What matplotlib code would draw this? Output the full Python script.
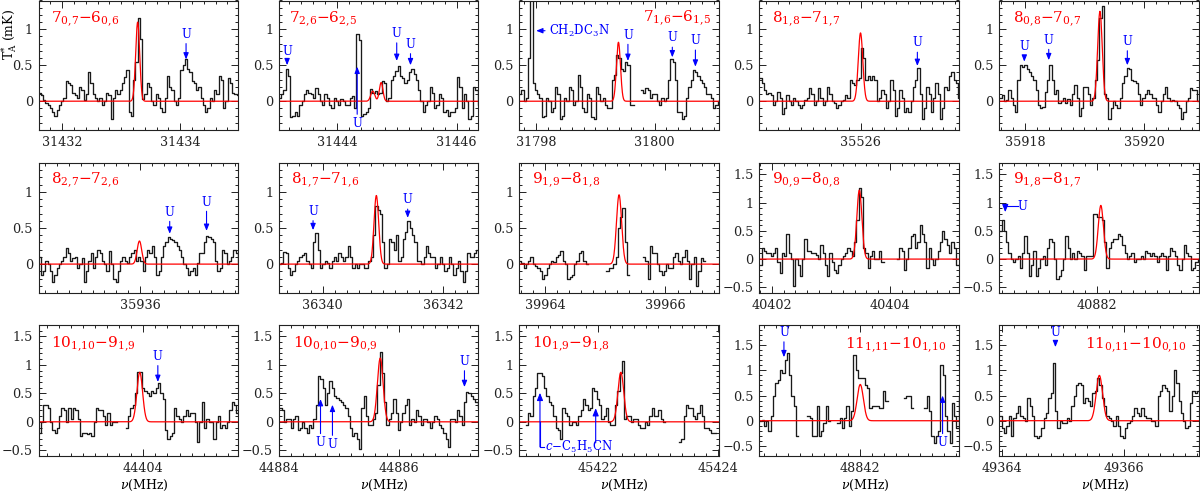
import numpy as np
import matplotlib
matplotlib.use('Agg')
import matplotlib.pyplot as plt
from matplotlib.ticker import MultipleLocator, FuncFormatter

nan = np.nan
plt.rcParams['font.family'] = ['DejaVu Serif']
plt.rcParams['mathtext.fontset'] = 'dejavuserif'

CHAN = 0.03815  # channel width (MHz)

labels = [r'$7_{0{,}7}{-}6_{0{,}6}$', r'$7_{2{,}6}{-}6_{2{,}5}$', r'$7_{1{,}6}{-}6_{1{,}5}$',
          r'$8_{1{,}8}{-}7_{1{,}7}$', r'$8_{0{,}8}{-}7_{0{,}7}$',
          r'$8_{2{,}7}{-}7_{2{,}6}$', r'$8_{1{,}7}{-}7_{1{,}6}$', r'$9_{1{,}9}{-}8_{1{,}8}$',
          r'$9_{0{,}9}{-}8_{0{,}8}$', r'$9_{1{,}8}{-}8_{1{,}7}$',
          r'$10_{1{,}10}{-}9_{1{,}9}$', r'$10_{0{,}10}{-}9_{0{,}9}$', r'$10_{1{,}9}{-}9_{1{,}8}$',
          r'$11_{1{,}11}{-}10_{1{,}10}$', r'$11_{0{,}11}{-}10_{0{,}10}$']

f_start = [31431.60, 31443.03, 31797.71, 35524.29, 35917.57,
           35934.29, 36339.27, 39963.57, 40401.79, 40880.36,
           44402.26, 44884.00, 45420.68, 48840.33, 49363.96]
x_lo = [31431.60, 31443.03, 31797.71, 35524.29, 35917.57,
        35934.29, 36339.27, 39963.57, 40401.79, 40880.36,
        44402.26, 44883.99, 45420.68, 48840.33, 49363.96]
x_hi = [31434.98, 31446.36, 31801.08, 35527.66, 35920.92,
        35937.65, 36342.58, 39966.88, 40405.16, 40883.70,
        44405.57, 44887.33, 45424.01, 48843.65, 49367.23]
y_lo = [-0.4, -0.4, -0.4, -0.4, -0.4, -0.4, -0.4, -0.4, -0.6, -0.6,
        -0.6, -0.6, -0.6, -0.7, -0.7]
y_hi = [1.4, 1.4, 1.4, 1.4, 1.4, 1.4, 1.4, 1.4, 1.7, 1.7,
        1.7, 1.7, 1.7, 1.9, 1.9]

spec_01 = [0.12, 0.08, 0.02, -0.02, -0.05, -0.10, -0.15, -0.20, -0.12, -0.05,
           0.00, 0.05, 0.28, 0.25, 0.22, 0.12, 0.08, 0.05, 0.20, 0.15,
           0.02, 0.10, 0.40, 0.25, 0.10, 0.05, 0.00, 0.05, -0.05, 0.00,
           0.12, 0.08, -0.25, 0.05, 0.15, 0.10, 0.15, 0.25, 0.33, 0.43,
           -0.15, -0.20, 0.30, 0.55, 1.15, 0.87, 0.03, 0.10, 0.25, 0.20,
           0.00, -0.05, 0.10, 0.05, -0.10, -0.15, 0.05, 0.35, 0.20, 0.15,
           0.00, -0.05, 0.05, 0.43, 0.50, 0.58, 0.45, 0.40, 0.28, 0.25,
           0.15, 0.20, 0.05, -0.05, -0.15, -0.10, 0.05, 0.00, 0.15, 0.10,
           0.35, 0.30, -0.10, 0.00, 0.32, 0.25, 0.12, 0.10, 0.08]
spec_02 = [0.05, 0.10, 0.15, 0.45, 0.35, -0.22, -0.20, -0.15, -0.20, -0.05,
           0.00, 0.10, 0.16, 0.12, 0.10, 0.05, 0.18, 0.10, 0.00, -0.05,
           0.10, 0.05, -0.05, -0.10, 0.05, 0.00, -0.05, 0.03, 0.00, -0.05,
           -0.05, 0.05, 0.07, -0.10, 0.93, 0.85, -0.20, -0.18, -0.15, -0.10,
           0.17, 0.12, 0.14, 0.10, 0.12, 0.28, 0.25, 0.00, 0.05, 0.30,
           0.35, 0.42, 0.49, 0.35, 0.32, 0.25, 0.30, 0.40, 0.45, 0.38,
           0.30, 0.15, 0.00, -0.15, -0.05, 0.00, 0.20, 0.12, -0.10, -0.05,
           0.10, 0.05, -0.15, -0.12, -0.20, -0.15, -0.15, -0.10, 0.33, 0.20,
           -0.10, 0.10, 0.00, -0.25, -0.20, 0.20, 0.15, -0.05]
spec_03 = [0.10, 0.15, 0.00, 0.05, 0.60, 2.80, 0.25, 0.15, 0.10, 0.05,
           -0.22, -0.20, 0.05, 0.00, -0.15, -0.10, 0.20, 0.10, -0.25, -0.20,
           0.05, 0.00, 0.20, 0.15, -0.05, 0.00, 0.37, 0.20, -0.10, -0.15,
           0.10, 0.05, -0.22, -0.25, 0.20, 0.10, 0.00, 0.05, -0.05, -0.10,
           -0.10, 0.30, 0.37, 0.64, 0.60, 0.45, 0.42, 0.55, 0.50, -0.05,
           -0.05, nan, nan, nan, 0.15, 0.12, 0.18, 0.15, 0.05, 0.10,
           0.10, 0.00, -0.05, 0.05, 0.00, 0.05, 0.30, 0.58, 0.55, 0.30,
           -0.15, -0.15, -0.25, -0.20, 0.05, 0.20, 0.30, 0.43, 0.40, 0.35,
           0.30, 0.25, 0.20, 0.10, 0.10, 0.05, -0.10, -0.05, 0.00]
spec_04 = [0.32, 0.25, 0.15, 0.10, 0.12, 0.08, -0.05, 0.00, 0.13, 0.05,
           -0.18, -0.10, 0.08, 0.00, -0.05, 0.05, 0.00, -0.05, -0.10, -0.05,
           0.02, 0.05, 0.18, 0.10, -0.05, 0.00, 0.18, 0.05, -0.05, 0.00,
           0.20, 0.10, 0.00, -0.02, -0.10, -0.05, 0.00, 0.02, 0.08, 0.05,
           0.30, 0.25, 0.22, 0.30, 0.32, 0.74, 0.60, 0.30, 0.35, 0.30,
           0.35, 0.30, 0.00, 0.05, 0.15, 0.10, -0.10, 0.00, 0.30, 0.15,
           -0.20, -0.10, 0.15, 0.05, -0.15, -0.10, -0.15, 0.00, 0.20, 0.30,
           0.46, 0.10, -0.25, -0.10, 0.20, 0.10, -0.15, 0.05, 0.25, 0.10,
           -0.25, -0.10, 0.20, 0.15, 0.35, 0.40, 0.30, 0.25, 0.05]
spec_05 = [0.05, 0.08, 0.00, 0.02, 0.15, 0.05, -0.05, -0.15, 0.30, 0.50,
           0.48, 0.50, 0.45, 0.40, 0.35, 0.30, 0.15, -0.05, -0.10, -0.08,
           0.13, 0.30, 0.50, 0.30, 0.10, 0.15, -0.02, 0.00, 0.05, -0.02,
           0.03, -0.05, 0.10, 0.22, 0.05, -0.20, -0.10, 0.20, 0.20, 0.10,
           -0.05, 0.05, 0.30, 0.57, 1.15, 1.33, 0.10, 0.05, -0.25, -0.10,
           0.00, -0.05, -0.10, 0.05, 0.25, 0.35, 0.46, 0.45, 0.30, 0.28,
           0.25, 0.10, -0.05, 0.05, 0.10, 0.15, 0.10, 0.05, 0.05, -0.05,
           -0.15, 0.00, 0.10, 0.20, 0.05, 0.00, 0.02, 0.00, -0.05, -0.10,
           -0.25, -0.15, 0.00, 0.05, 0.18, 0.15, 0.15, 0.00]
spec_06 = [0.10, -0.15, -0.10, 0.05, 0.00, -0.10, -0.25, -0.15, -0.05, 0.00,
           0.05, 0.10, 0.23, 0.15, 0.05, 0.08, 0.10, -0.05, 0.00, 0.08,
           -0.25, -0.10, 0.05, 0.15, -0.05, 0.10, 0.20, 0.15, 0.05, 0.00,
           -0.10, 0.18, 0.00, -0.20, -0.25, -0.10, 0.05, 0.10, 0.05, 0.02,
           0.10, 0.15, 0.20, 0.05, 0.10, 0.05, -0.10, 0.10, 0.20, 0.15,
           0.25, 0.10, -0.15, -0.10, 0.10, 0.25, 0.30, 0.37, 0.35, 0.33,
           0.30, 0.25, 0.20, 0.10, 0.00, -0.05, -0.15, -0.10, -0.05, -0.15,
           0.02, 0.15, 0.15, 0.30, 0.39, 0.38, 0.35, 0.30, 0.05, -0.10,
           -0.05, 0.20, 0.15, 0.00, 0.05, 0.10, 0.20, 0.15, 0.00]
spec_07 = [0.00, 0.02, 0.17, 0.15, -0.05, -0.15, -0.10, 0.00, 0.05, 0.10,
           0.12, 0.15, 0.05, 0.00, -0.05, 0.30, 0.43, 0.20, -0.05, 0.00,
           0.05, 0.02, -0.05, 0.05, 0.10, 0.05, 0.15, 0.10, 0.05, 0.10,
           0.25, 0.10, -0.05, 0.00, -0.05, 0.00, 0.00, -0.05, -0.05, 0.05,
           0.10, 0.40, 0.80, 0.75, 0.70, 0.30, -0.05, 0.00, 0.35, 0.30,
           0.20, 0.40, 0.05, 0.10, 0.35, 0.45, 0.60, 0.50, 0.40, 0.30,
           0.05, 0.05, 0.00, 0.10, 0.25, 0.15, 0.10, 0.10, -0.05, 0.00,
           0.10, 0.00, -0.10, -0.05, 0.10, 0.00, -0.15, -0.05, 0.05, -0.10,
           -0.25, -0.10, 0.15, 0.10, 0.10, 0.15, 0.20]
spec_08 = [0.05, 0.02, -0.05, 0.00, 0.05, 0.10, 0.00, -0.03, -0.05, -0.10,
           -0.20, -0.15, -0.05, 0.00, 0.05, 0.03, 0.10, 0.12, 0.18, 0.05,
           0.00, -0.20, -0.18, -0.15, 0.00, 0.05, 0.15, 0.18, 0.05, 0.00,
           nan, nan, nan, nan, nan, nan, nan, nan, -0.10, -0.05,
           -0.05, 0.00, 0.10, 0.50, 0.65, 0.78, 0.30, -0.15, nan, nan,
           nan, nan, nan, nan, 0.10, 0.05, -0.20, 0.25, 0.15, 0.15,
           0.00, -0.10, -0.15, -0.10, 0.00, -0.05, -0.05, 0.10, 0.15, 0.05,
           0.00, 0.10, 0.20, 0.05, -0.20, 0.00, 0.10, -0.30, -0.10, 0.08,
           0.05, nan, nan, nan, nan, nan, nan, nan]
spec_09 = [-0.10, 0.20, 0.15, 0.10, 0.10, 0.05, 0.10, 0.20, -0.05, -0.25,
           0.10, 0.05, 0.45, 0.10, 0.00, -0.48, 0.00, -0.10, -0.30, 0.00,
           0.35, 0.15, 0.15, 0.10, 0.10, 0.08, 0.00, 0.25, 0.10, -0.10,
           -0.30, 0.10, -0.05, -0.20, -0.25, -0.10, 0.00, 0.05, 0.10, 0.20,
           0.15, 0.05, 0.30, 0.70, 1.25, 1.10, 0.20, 0.10, -0.15, 0.05,
           0.15, 0.00, 0.00, 0.15, -0.05, nan, nan, nan, nan, nan,
           nan, 0.00, 0.20, 0.15, -0.20, 0.00, 0.20, 0.40, 0.45, 0.20,
           0.30, 0.60, 0.45, 0.30, -0.15, 0.20, 0.00, -0.10, 0.00, 0.15,
           0.30, 0.50, 0.35, 0.25, 0.10, 0.30, 0.20, -0.10, -0.10]
spec_10 = [0.50, 0.70, 0.50, 0.30, 0.10, 0.00, -0.05, 0.00, 0.05, -0.15,
           0.10, 0.40, 0.10, -0.30, -0.10, 0.15, -0.30, -0.15, 0.00, 0.05,
           -0.10, 0.20, 0.35, 0.30, 0.00, -0.35, -0.30, -0.20, 0.00, 0.40,
           0.20, 0.00, 0.10, 0.00, 0.15, 0.10, 0.05, -0.20, 0.05, 0.05,
           0.05, 0.80, 0.80, 0.75, 0.75, 0.70, 0.30, -0.15, 0.20, 0.30,
           0.35, 0.35, 0.45, 0.40, 0.25, 0.10, 0.00, 0.05, 0.10, -0.05,
           0.00, 0.00, 0.05, 0.00, 0.15, 0.10, 0.05, 0.10, 0.05, -0.05,
           0.05, 0.10, 0.05, -0.20, 0.05, 0.20, 0.15, 0.05, -0.10, -0.20,
           0.00, 0.25, 0.10, 0.05, -0.20, -0.15, -0.05, 0.00]
spec_11 = [-0.20, 0.00, 0.30, 0.30, 0.25, 0.00, -0.15, -0.20, -0.10, 0.10,
           0.24, 0.20, 0.00, 0.25, 0.05, 0.25, 0.20, 0.05, -0.25, -0.20,
           -0.20, -0.22, -0.20, -0.25, 0.00, 0.25, 0.20, 0.20, 0.10, -0.05,
           0.15, -0.05, 0.00, 0.00, nan, nan, nan, nan, -0.10, 0.10,
           0.25, 0.30, 0.50, 0.88, 0.88, 0.60, 0.55, 0.50, 0.45, 0.55,
           0.50, 0.60, 0.68, 0.50, 0.40, -0.15, -0.30, -0.25, -0.20, 0.25,
           0.10, 0.05, 0.00, 0.10, 0.20, 0.10, 0.15, 0.15, 0.00, -0.35,
           0.00, 0.35, -0.10, 0.05, 0.00, 0.00, -0.30, 0.00, 0.10, -0.10,
           -0.05, -0.10, 0.00, 0.20, 0.35, 0.30, 0.15, -0.25]
spec_12 = [0.25, 0.20, 0.00, 0.05, 0.05, -0.10, 0.05, 0.10, -0.15, -0.10,
           0.00, -0.10, -0.20, -0.05, -0.10, 0.05, 0.30, 0.80, 0.75, 0.60,
           0.30, 0.50, 0.72, 0.60, 0.45, 0.42, 0.38, 0.35, 0.30, 0.25,
           0.10, -0.10, -0.25, -0.20, -0.30, -0.48, 0.25, 0.45, 0.10, -0.05,
           -0.05, 0.05, 0.15, 0.65, 1.22, 0.85, 0.35, -0.05, 0.05, 0.15,
           0.40, 0.15, -0.15, 0.00, 0.15, 0.30, 0.40, -0.05, 0.05, 0.00,
           0.20, 0.10, -0.05, 0.05, 0.05, 0.00, -0.10, 0.00, 0.10, 0.05,
           -0.05, -0.10, -0.20, -0.30, -0.45, 0.05, 0.05, 0.00, 0.20, 0.10,
           -0.05, 0.35, 0.53, 0.50, 0.45, 0.40, 0.35, 0.25]
spec_13 = [nan, nan, nan, -0.05, 0.15, 0.10, 0.45, 0.60, 0.86, 0.85,
           0.80, 0.60, 0.45, 0.35, 0.30, 0.10, -0.10, -0.15, -0.30, 0.25,
           0.15, 0.10, -0.05, 0.00, 0.00, -0.05, 0.10, 0.20, 0.40, 0.30,
           0.20, 0.25, 0.60, 0.55, 0.40, 0.30, 0.05, 0.10, 0.25, 0.00,
           -0.05, -0.05, 0.30, 0.55, 0.85, 1.07, 0.05, 0.10, 0.10, 0.00,
           0.05, 0.05, -0.05, -0.10, -0.10, 0.00, -0.05, 0.10, 0.25, 0.10,
           0.10, 0.20, 0.05, 0.00, nan, nan, nan, nan, nan, nan,
           -0.35, -0.30, 0.10, 0.30, 0.25, 0.25, 0.10, 0.05, 0.15, 0.30,
           0.10, -0.10, -0.10, -0.15, -0.20, -0.20, nan, nan]
spec_14 = [0.00, 0.02, -0.10, 0.00, -0.20, 0.10, 0.50, 0.75, 0.80, 1.00,
           0.95, 1.20, 1.35, 0.90, 0.50, 0.30, -0.30, nan, nan, nan,
           nan, 0.10, 0.05, -0.30, -0.30, 0.30, -0.30, -0.20, -0.05, 0.30,
           0.00, nan, nan, nan, -0.05, 0.05, -0.15, 0.05, 0.30, -0.10,
           0.20, 1.30, 1.00, 0.85, 0.85, 0.85, 0.70, 0.65, 0.25, 0.30,
           0.30, 0.30, 0.25, 0.25, 0.60, 0.40, nan, nan, nan, nan,
           nan, nan, nan, 0.45, 0.50, 0.50, 0.25, nan, nan, nan,
           nan, nan, 0.25, 0.50, 0.20, -0.30, -0.45, -0.30, -0.20, 1.10,
           0.90, 0.10, -0.20, -0.45, 0.35, 0.10, -0.15, 0.50]
spec_15 = [0.10, -0.15, -0.25, -0.10, 0.10, -0.30, 0.05, 0.15, 0.30, 0.10,
           0.05, 0.00, 0.45, 0.30, 0.10, -0.30, -0.35, -0.30, -0.15, 0.05,
           0.15, 0.45, 0.55, 1.15, 0.20, -0.15, 0.00, -0.05, -0.05, 0.05,
           0.00, 0.30, 0.50, 0.70, 0.75, 0.70, 0.35, 0.45, 0.40, 0.30,
           0.55, 0.60, 0.85, 0.70, 0.45, 0.30, 0.10, 0.05, 0.00, -0.10,
           0.10, -0.10, -0.30, -0.35, -0.15, -0.05, 0.00, 0.10, 0.25, 0.15,
           0.10, 0.25, 0.10, 0.05, 0.05, 0.00, 0.00, -0.10, 0.50, 0.60,
           0.70, 0.65, 0.60, 0.20, 0.50, 1.00, 0.75, 0.40, 0.15, 0.00,
           -0.15, -0.10, 0.35, 0.60, 0.55, 0.60]

spectra = [spec_01, spec_02, spec_03, spec_04, spec_05, spec_06, spec_07, spec_08,
           spec_09, spec_10, spec_11, spec_12, spec_13, spec_14, spec_15]

# LTE model components (red)
comp_panel = [0, 1, 1, 2, 3, 4, 5, 6, 7, 8, 9, 10, 11, 12, 13, 14]
comp_center = [31433.28, 31444.60, 31444.74, 31799.39, 35526.00, 35919.26,
               35935.99, 36340.89, 39965.23, 40403.48, 40882.06, 44403.94,
               44885.69, 45422.38, 48842.01, 49365.60]
comp_peak = [1.10, 0.14, 0.26, 0.82, 0.95, 1.25, 0.32, 0.95, 0.96, 1.22, 0.95,
             0.87, 1.12, 0.87, 0.72, 0.90]
comp_fwhm = [0.080, 0.080, 0.070, 0.080, 0.090, 0.090, 0.090, 0.091, 0.100, 0.101,
             0.102, 0.111, 0.112, 0.114, 0.122, 0.123]

# "U" markers: downward arrows (text above) and upward arrows (text below)
ud_panel = [0, 1, 1, 1, 2, 2, 2, 3, 4, 4, 4, 5, 5, 6, 6, 10, 11, 13, 14]
ud_freq = [31434.10, 31443.17, 31445.00, 31445.23, 31799.55, 31800.30, 31800.69,
           35526.96, 35917.99, 35918.40, 35919.72, 35936.50, 35937.12,
           36339.84, 36341.41, 44404.24, 44887.10, 48840.74, 49364.88]
ud_tip = [0.58, 0.50, 0.56, 0.50, 0.56, 0.61, 0.48, 0.49, 0.55, 0.57, 0.50,
          0.42, 0.46, 0.47, 0.64, 0.70, 0.61, 1.26, 1.46]
ud_text = [0.93, 0.69, 0.94, 0.79, 0.92, 0.88, 0.84, 0.81, 0.76, 0.85, 0.83,
           0.72, 0.86, 0.73, 0.89, 1.15, 1.06, 1.75, 1.76]

uu_panel = [1, 11, 11, 13]
uu_freq = [31444.34, 44884.69, 44884.89, 48843.38]
uu_tip = [0.48, 0.40, 0.30, 0.50]
uu_text = [-0.31, -0.37, -0.40, -0.44]

BLUE = '#0000ff'
RED = '#ff0000'

fig = plt.figure(figsize=(12, 4.92), dpi=100)
col_left = [38.5, 278.7, 519.0, 759.3, 999.3]
row_top = [0.5, 163.0, 325.0]
row_bot = [130.0, 293.0, 456.0]
lab_ha = ['left', 'left', 'right', 'left', 'left',
          'left', 'left', 'left', 'left', 'left',
          'left', 'left', 'left', 'right', 'right']
lab_x = [0.063, 0.050, 0.963, 0.062, 0.067,
         0.062, 0.062, 0.063, 0.062, 0.067,
         0.062, 0.070, 0.063, 0.937, 0.937]
lab_y = [0.855, 0.855, 0.865, 0.855, 0.855,
         0.864, 0.864, 0.864, 0.864, 0.864,
         0.855, 0.855, 0.855, 0.847, 0.847]

fmt = FuncFormatter(lambda v, p: ('%g' % v).replace('-', '\u2212'))
axes = []
for k in range(15):
    r, c = divmod(k, 5)
    ax = fig.add_axes([col_left[c] / 1200, 1 - row_bot[r] / 492,
                       199.5 / 1200, (row_bot[r] - row_top[r]) / 492])
    axes.append(ax)
    vals = np.array(spectra[k], dtype=float)
    freq = f_start[k] + (np.arange(len(vals)) + 0.5) * CHAN
    ax.step(freq, vals, where='mid', color='#1a1a1a', lw=0.95)
    fm = np.linspace(x_lo[k], x_hi[k], 800)
    model = np.zeros_like(fm)
    for p, c0, a, w in zip(comp_panel, comp_center, comp_peak, comp_fwhm):
        if p == k:
            model += a * np.exp(-4 * np.log(2) * (fm - c0) ** 2 / w ** 2)
    ax.plot(fm, model, color=RED, lw=0.9)
    ax.set_xlim(x_lo[k], x_hi[k])
    ax.set_ylim(y_lo[k], y_hi[k])
    ax.xaxis.set_major_locator(MultipleLocator(2))
    ax.xaxis.set_minor_locator(MultipleLocator(0.2))
    ax.yaxis.set_major_locator(MultipleLocator(0.5))
    ax.yaxis.set_minor_locator(MultipleLocator(0.1))
    ax.yaxis.set_major_formatter(fmt)
    ax.xaxis.set_major_formatter(FuncFormatter(lambda v, p: '%d' % round(v)))
    ax.tick_params(which='both', direction='in', top=True, right=True,
                   labelsize=9.2, width=0.7, colors='#222222')
    ax.tick_params(which='major', length=5)
    ax.tick_params(which='minor', length=2.5)
    ax.tick_params(axis='x', pad=4.5)
    ax.tick_params(axis='y', pad=4)
    for s in ax.spines.values():
        s.set_linewidth(0.8)
        s.set_color('#222222')
    ax.text(lab_x[k], lab_y[k], labels[k], transform=ax.transAxes, color=RED,
            fontsize=11, ha=lab_ha[k], va='center')
    if r == 2:
        ax.text(0.53, -0.222, r'$\nu$(MHz)', transform=ax.transAxes,
                ha='center', va='center', fontsize=9)

arrow_kw = dict(arrowstyle='-|>,head_length=0.45,head_width=0.18', color=BLUE,
                lw=0.8, shrinkA=0, shrinkB=0)
for p, f, t, ty in zip(ud_panel, ud_freq, ud_tip, ud_text):
    axes[p].annotate('U', xy=(f, t), xytext=(f, ty), color=BLUE, fontsize=8.5,
                     ha='center', va='center', arrowprops=arrow_kw)
for p, f, t, ty in zip(uu_panel, uu_freq, uu_tip, uu_text):
    axes[p].annotate('U', xy=(f, t), xytext=(f, ty), color=BLUE, fontsize=8.5,
                     ha='center', va='center', arrowprops=arrow_kw)

# CH2DC3N label (panel 3)
axes[2].annotate(r'CH$_2$DC$_3$N', xy=(31798.00, 0.98), xytext=(31798.22, 0.98),
                 color=BLUE, fontsize=8.5, ha='left', va='center',
                 arrowprops=dict(arrow_kw, shrinkA=1))
# bent U arrow (panel 10)
ax = axes[9]
ax.plot([40880.46, 40880.67], [0.94, 0.94], color=BLUE, lw=0.8)
ax.annotate('', xy=(40880.46, 0.83), xytext=(40880.46, 0.945), arrowprops=arrow_kw)
ax.text(40880.74, 0.93, 'U', color=BLUE, fontsize=8.5, ha='center', va='center')
# c-C5H5CN bracket (panel 13)
ax = axes[12]
ax.plot([45421.03, 45421.03, 45421.10], [0.0, -0.44, -0.44], color=BLUE, lw=0.8)
ax.annotate('', xy=(45421.03, 0.51), xytext=(45421.03, -0.44), arrowprops=arrow_kw)
ax.annotate('', xy=(45421.96, 0.24), xytext=(45421.96, -0.37), arrowprops=arrow_kw)
ax.text(45421.11, -0.44, r'$c$' + '\u2212' + r'C$_5$H$_5$CN', color=BLUE, fontsize=8.5,
        ha='left', va='center')

axes[0].text(-0.148, 0.74, r'T$_{\rm A}^{*}$ (mK)', transform=axes[0].transAxes,
             rotation=90, ha='center', va='center', fontsize=9)

fig.savefig('out.png', dpi=100)
